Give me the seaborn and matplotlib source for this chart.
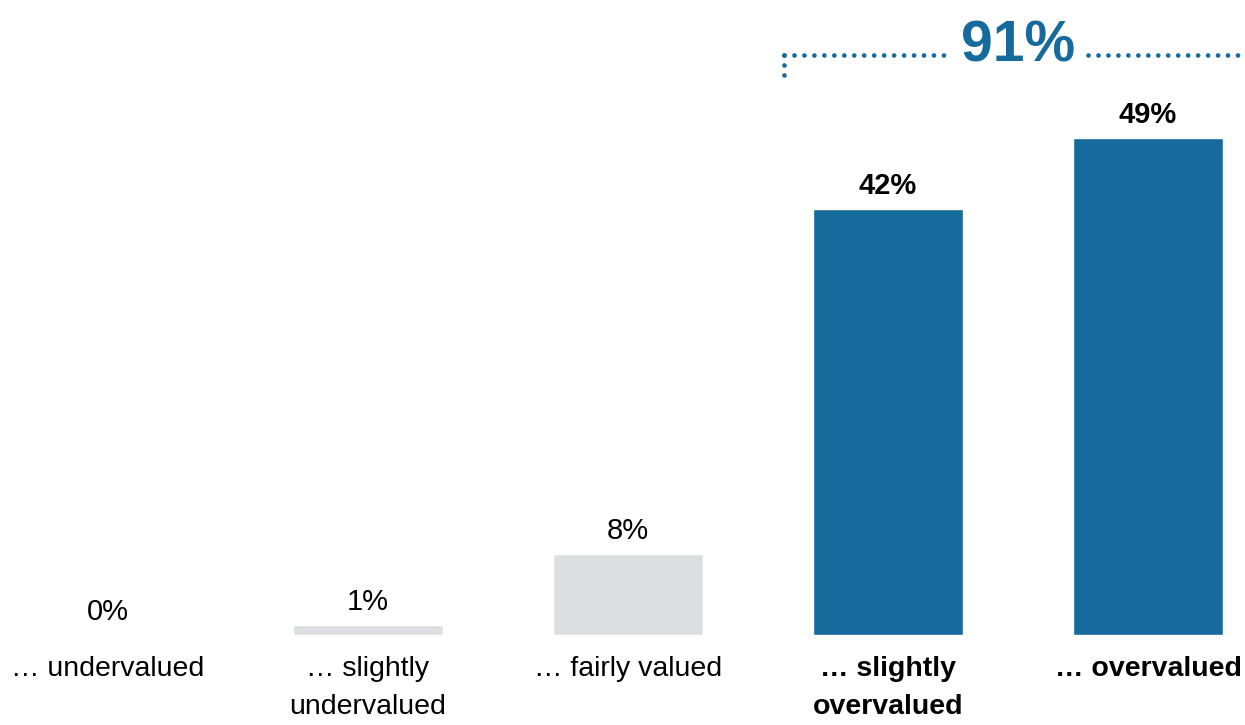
import matplotlib
matplotlib.use("Agg")
import matplotlib.pyplot as plt
import seaborn as sns

categories = ["… undervalued", "… slightly\nundervalued", "… fairly valued",
              "… slightly\novervalued", "… overvalued"]
values = [0, 1, 8, 42, 49]
labels = ["0%", "1%", "8%", "42%", "49%"]
highlight = [False, False, False, True, True]
total_label = "91%"

BLUE = "#176b9c"
GRAY = "#dddee2"

sns.set_theme(style="white")
plt.rcParams["font.family"] = ["Liberation Sans Narrow", "Liberation Sans", "DejaVu Sans"]

fig = plt.figure(figsize=(12.45, 7.25), dpi=100)
ax = fig.add_axes([0, 90 / 725, 1, 635 / 725])

colors = [BLUE if h else GRAY for h in highlight]
sns.barplot(x=categories, y=values, hue=categories, palette=colors, legend=False,
            width=0.577, ax=ax, saturation=1)

ax.set_xlim(-108 / 260, (1245 - 108) / 260)
ax.set_ylim(0, 635 / 10.14)
for s in ax.spines.values():
    s.set_visible(False)
ax.set_yticks([])
ax.set_xlabel("")
ax.set_ylabel("")
ax.tick_params(axis="x", length=0, pad=15)
ax.set_xticks(range(len(categories)))
ax.set_xticklabels(categories, fontsize=20.5, color="black", linespacing=1.6, va="top")
for t, h in zip(ax.get_xticklabels(), highlight):
    t.set_fontweight("bold" if h else "normal")

for i, (v, lab, h) in enumerate(zip(values, labels, highlight)):
    ax.text(i, v + 0.9, lab, ha="center", va="bottom", fontsize=21,
            fontweight="bold" if h else "normal", color="black")

# bracket
yb = 57.2
dot = dict(color=BLUE, linewidth=3.4, linestyle=(0, (0.01, 2.1)), dash_capstyle="round",
           solid_capstyle="round")
ax.plot([2.6, 2.6], [55.2, yb], **dot)
ax.plot([2.6, 3.23], [yb, yb], **dot)
ax.plot([3.77, 4.35], [yb, yb], **dot)
ax.text(3.5, yb - 0.6, total_label, ha="center", va="baseline", fontsize=41,
        fontweight="bold", color=BLUE)

fig.savefig("out.png", dpi=100)
